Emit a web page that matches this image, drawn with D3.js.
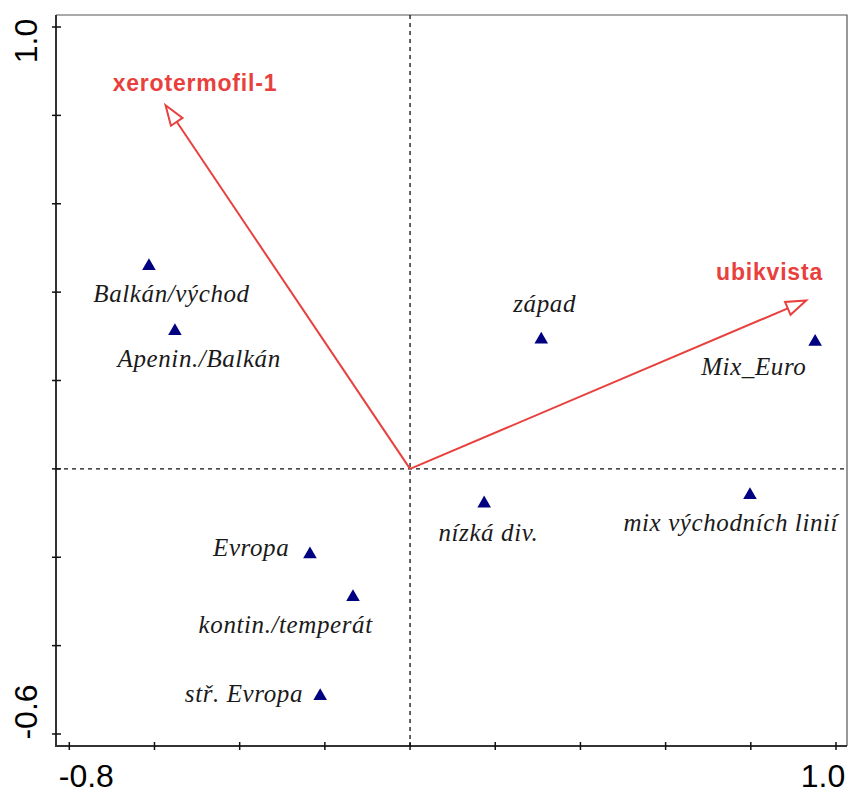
<!DOCTYPE html>
<html>
<head>
<meta charset="utf-8">
<script src="https://cdn.jsdelivr.net/npm/d3@7"></script>
<style>
  body { margin: 0; background: #fff; }
</style>
</head>
<body>
<svg id="biplot" width="849" height="792"></svg>
<script>
(function() {
    var width = 849, height = 792

    // samples (triangles)
    const names = ["Balkán/východ", "Apenin./Balkán", "západ", "Mix_Euro", "nízká div.",
                   "mix východních linií", "Evropa", "kontin./temperát", "stř. Evropa"];
    const sampleX = [-0.613, -0.552, 0.308, 0.951, 0.174, 0.798, -0.235, -0.134, -0.211];
    const sampleY = [0.461, 0.314, 0.295, 0.290, -0.076, -0.057, -0.191, -0.288, -0.512];
    // label anchor (centre, baseline) in axis units
    const labelX = [-0.560, -0.495, 0.316, 0.807, 0.184, 0.753, -0.373, -0.292, -0.390];
    const labelY = [0.377, 0.230, 0.354, 0.212, -0.164, -0.141, -0.198, -0.372, -0.528];

    // species arrows
    const species = ["xerotermofil-1", "ubikvista"];
    const speciesX = [-0.574, 0.930];
    const speciesY = [0.823, 0.381];
    const speciesLabelX = [-0.505, 0.844];
    const speciesLabelY = [0.855, 0.427];

    const xTicks = [-0.8, -0.6, -0.4, -0.2, 0, 0.2, 0.4, 0.6, 0.8, 1.0];
    const yTicks = [-0.6, -0.4, -0.2, 0, 0.2, 0.4, 0.6, 0.8, 1.0];

    const red = "#e8403d", navy = "#000080";
    const left = 56, right = 847, top = 15, bottom = 746;

    let x = d3.scaleLinear().domain([-0.8, 1.0]).range([69.3, 836]);
    let y = d3.scaleLinear().domain([-0.6, 1.0]).range([734, 27]);

    const svg = d3.select("#biplot");

    // frame
    svg.append("path")
    .attr("d", `M${left},${top}H${right}V${bottom}`)
    .attr("fill", "none")
    .attr("stroke", "#555")
    .attr("stroke-width", 1.2);

    svg.append("path")
    .attr("d", `M${left},${top}V${bottom}H${right}`)
    .attr("fill", "none")
    .attr("stroke", "#333")
    .attr("stroke-width", 2);

    // ticks
    svg.append("g")
    .selectAll("line")
    .data(yTicks)
    .join("line")
    .attr("x1", left - 4).attr("x2", left + 5)
    .attr("y1", d => y(d)).attr("y2", d => y(d))
    .attr("stroke", "#111").attr("stroke-width", 1.5);

    svg.append("g")
    .selectAll("line")
    .data(xTicks)
    .join("line")
    .attr("y1", bottom - 4).attr("y2", bottom + 4)
    .attr("x1", d => x(d)).attr("x2", d => x(d))
    .attr("stroke", "#111").attr("stroke-width", 1.5);

    // end labels only (plain hyphen for minus, as in the original)
    const fmt = (v) => v.toFixed(1);
    const tickFont = "Liberation Sans, Arial, sans-serif";
    svg.append("text")
    .attr("transform", `translate(37,${y(1.0) + 14}) rotate(-90)`)
    .attr("text-anchor", "middle")
    .attr("font-family", tickFont)
    .attr("font-size", 32)
    .text(fmt(1.0));
    svg.append("text")
    .attr("transform", `translate(37,${y(-0.6) - 22}) rotate(-90)`)
    .attr("text-anchor", "middle")
    .attr("font-family", tickFont)
    .attr("font-size", 32)
    .text(fmt(-0.6));
    svg.append("text")
    .attr("x", x(-0.8) + 17).attr("y", 787)
    .attr("text-anchor", "middle")
    .attr("font-family", tickFont)
    .attr("font-size", 32)
    .text(fmt(-0.8));
    svg.append("text")
    .attr("x", x(1.0) - 13).attr("y", 787)
    .attr("text-anchor", "middle")
    .attr("font-family", tickFont)
    .attr("font-size", 32)
    .text(fmt(1.0));

    // zero lines
    svg.append("line")
    .attr("x1", left).attr("x2", right)
    .attr("y1", y(0)).attr("y2", y(0))
    .attr("stroke", "#111").attr("stroke-width", 1.3)
    .attr("stroke-dasharray", "4,4");
    svg.append("line")
    .attr("x1", x(0)).attr("x2", x(0))
    .attr("y1", top).attr("y2", bottom)
    .attr("stroke", "#111").attr("stroke-width", 1.3)
    .attr("stroke-dasharray", "4,4");

    // arrows
    const arrows = species.map((s, i) => ({name: s, x: speciesX[i], y: speciesY[i],
        lx: speciesLabelX[i], ly: speciesLabelY[i]}));
    const headLen = 20, headHalf = 7;

    let arrowG = svg.append("g");
    arrows.forEach((a) => {
        const x0 = x(0), y0 = y(0), x1 = x(a.x), y1 = y(a.y);
        const len = Math.hypot(x1 - x0, y1 - y0);
        const ux = (x1 - x0) / len, uy = (y1 - y0) / len;
        const bx = x1 - ux * headLen, by = y1 - uy * headLen;
        arrowG.append("line")
        .attr("x1", x0).attr("y1", y0)
        .attr("x2", bx).attr("y2", by)
        .attr("stroke", red).attr("stroke-width", 2);
        arrowG.append("path")
        .attr("d", `M${x1},${y1}L${bx - uy * headHalf},${by + ux * headHalf}L${bx + uy * headHalf},${by - ux * headHalf}Z`)
        .attr("fill", "#fff")
        .attr("stroke", red).attr("stroke-width", 2)
        .attr("stroke-linejoin", "miter");
        arrowG.append("text")
        .attr("x", x(a.lx)).attr("y", y(a.ly))
        .attr("text-anchor", "middle")
        .attr("font-family", "Liberation Sans, Arial, sans-serif")
        .attr("font-weight", "bold")
        .attr("font-size", 23)
        .attr("letter-spacing", 0.8)
        .attr("fill", red)
        .text(a.name);
    });

    // samples
    const samples = names.map((n, i) => ({name: n, x: sampleX[i], y: sampleY[i],
        lx: labelX[i], ly: labelY[i]}));

    svg.append("g")
    .selectAll("path")
    .data(samples)
    .join("path")
    .attr("d", d3.symbol().type(d3.symbolTriangle).size(80))
    .attr("transform", d => `translate(${x(d.x)},${y(d.y) + 1})`)
    .attr("fill", navy);

    svg.append("g")
    .selectAll("text")
    .data(samples)
    .join("text")
    .attr("x", d => x(d.lx))
    .attr("y", d => y(d.ly))
    .attr("text-anchor", "middle")
    .attr("font-family", "Liberation Serif, Times New Roman, serif")
    .attr("font-style", "italic")
    .attr("font-size", 25)
    .attr("letter-spacing", 0.6)
    .attr("fill", "#1a1a1a")
    .text(d => d.name);
})()
</script>
</body>
</html>
